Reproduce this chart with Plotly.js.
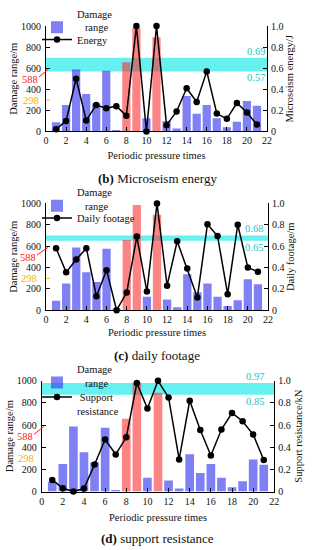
<!DOCTYPE html>
<html>
<head>
<meta charset="utf-8">
<script src="https://cdn.plot.ly/plotly-3.0.1.min.js"></script>
<style>
html,body{margin:0;padding:0;background:#fff;}
#chart{width:312px;height:550px;}
</style>
</head>
<body>
<div id="chart"></div>
<script>
// ---- data ----
const times = [1,2,3,4,5,6,7,8,9,10,11,12,13,14,15,16,17,18,19,20,21];
const damageRange = [88,250,588,355,265,575,15,657,985,125,893,100,28,336,168,250,125,40,93,290,243];
const highlighted = [8,9,11];   // periodic pressure times drawn in red
const energy = [0.02,0.10,0.50,0.105,0.25,0.22,0.24,0.15,1.0,0.0,1.0,0.06,0.19,0.41,0.28,0.57,0.17,0.12,0.27,0.18,0.065];
const dailyFootage = [0.58,0.355,0.475,0.58,0.13,0.375,0.0,0.165,0.69,0.175,1.0,0.23,0.645,0.39,0.12,0.805,0.695,0.15,0.80,0.40,0.36];
const supportResistance = [0.105,0.03,0.0,0.027,0.245,0.47,0.335,0.49,0.98,0.75,1.0,0.85,0.29,0.82,0.555,0.325,0.56,0.71,0.635,0.515,0.285];
const bandB = [0.57, 0.70], bandLabelsB = ['0.69','0.57'];
const bandC = [0.65, 0.70], bandLabelsC = ['0.68','0.65'];
const bandD = [0.875, 0.98], bandLabelsD = ['0.97','0.85'];
const markLevels = [588, 298];
const xTicks = [0,2,4,6,8,10,12,14,16,18,20,22];
const leftTicks = [0,200,400,600,800,1000];
const rightTickVals = [0,0.2,0.4,0.6,0.8,1.0];
const rightTickText = ['0','0.2','0.4','0.6','0.8','1.0'];

const FONT = 'Liberation Serif, Times New Roman, serif';
const BLUE = 'rgba(60,60,240,0.65)';
const RED = 'rgba(250,50,50,0.6)';
const CYAN = 'rgba(0,230,230,0.6)';
const CYANTXT = '#22c4c4';
const RED_TXT = '#ff1a1a';
const ORANGE = '#f5b400';
const NB = '\u00a0';

const blueX = [], blueY = [], redX = [], redY = [];
times.forEach((t,i)=>{
  if(highlighted.includes(t)){ redX.push(t); redY.push(damageRange[i]); }
  else { blueX.push(t); blueY.push(damageRange[i]); }
});

const panels = [
  {x:'x', y:'y', y2:'y2', xa:'xaxis', ya:'yaxis', ya2:'yaxis2', lgBar:'legend', lgLine:'legend2',
   series: energy, name:'Energy', rtitle:'Microseism energy/J', band: bandB, bandLabels: bandLabelsB,
   xdom:[0.1474,0.8558], ydom:[0.7722,0.9667], dash:true, xlab:20.9, caption:'<b>(b)</b> Microseism energy', capY:173,
   xstand:6, lstand:1, rstand:3, lab588:40, barLegY:13, lineLegY:32, lineValign:'middle'},
  {x:'x2', y:'y3', y2:'y4', xa:'xaxis2', ya:'yaxis3', ya2:'yaxis4', lgBar:'legend3', lgLine:'legend4',
   series: dailyFootage, name:'Daily footage', rtitle:'Daily footage/m', band: bandC, bandLabels: bandLabelsC,
   xdom:[0.1474,0.8590], ydom:[0.4424,0.6395], dash:true, xlab:20.6, caption:'<b>(c)</b> daily footage', capY:352.7,
   xstand:4, lstand:1, rstand:3, lab588:38, barLegY:194, lineLegY:213, lineValign:'middle'},
  {x:'x3', y:'y5', y2:'y6', xa:'xaxis3', ya:'yaxis5', ya2:'yaxis6', lgBar:'legend5', lgLine:'legend6',
   series: supportResistance, name:NB+'Support<br>resistance', rtitle:'Support resistance/kN', band: bandD, bandLabels: bandLabelsD,
   xdom:[0.1336,0.8792], ydom:[0.1078,0.3122], dash:false, xlab:20.2, caption:'<b>(d)</b> support resistance', capY:538,
   xstand:8, lstand:1, rstand:4, lab588:35, barLegY:373.5, lineLegY:402, lineValign:'top'}
];

const data = [];
const layout = {
  width:312, height:550, margin:{l:0,r:0,t:0,b:0},
  paper_bgcolor:'#fff', plot_bgcolor:'rgba(0,0,0,0)',
  font:{family:FONT, size:10, color:'#111'},
  showlegend:true, barmode:'overlay',
  shapes:[], annotations:[]
};

panels.forEach((p,k)=>{
  data.push({type:'bar', x:blueX, y:blueY, xaxis:p.x, yaxis:p.y, width:0.82,
    marker:{color:BLUE, line:{width:0}}, name:'Damage<br>'+NB+NB+NB+'range', legend:p.lgBar, showlegend:true});
  data.push({type:'bar', x:redX, y:redY, xaxis:p.x, yaxis:p.y, width:0.82,
    marker:{color:RED, line:{width:0}}, showlegend:false, legend:p.lgBar});
  data.push({type:'scatter', mode:'lines+markers', x:times, y:p.series, xaxis:p.x, yaxis:p.y2,
    line:{color:'#000', width:1.5}, marker:{color:'#000', size:6.5}, name:p.name, legend:p.lgLine, cliponaxis:false});

  const axCommon = {showline:true, linecolor:'#000', linewidth:1, ticks:'inside', ticklen:4, tickcolor:'#000',
    showgrid:false, zeroline:false, tickfont:{family:FONT, size:10, color:'#111'}};
  layout[p.xa] = Object.assign({}, axCommon, {domain:p.xdom, anchor:p.y, range:[0,22], tickvals:xTicks,
    title:{text:'Periodic pressure times', font:{family:FONT,size:10.5,color:'#111'}, standoff:p.xstand}});
  layout[p.ya] = Object.assign({}, axCommon, {domain:p.ydom, anchor:p.x, range:[0,1000], tickvals:leftTicks,
    ticklabelstandoff:2,
    title:{text:'Damage range/m', font:{family:FONT,size:10.5,color:'#111'}, standoff:p.lstand}});
  layout[p.ya2] = Object.assign({}, axCommon, {domain:p.ydom, anchor:p.x, overlaying:p.y, side:'right',
    range:[0,1], tickvals:rightTickVals, ticktext:rightTickText, ticklabelstandoff:1,
    title:{text:p.rtitle, font:{family:FONT,size:10.5,color:'#111'}, standoff:p.rstand}});

  // threshold band
  layout.shapes.push({type:'rect', xref:p.x, yref:p.y2, x0:0, x1:22, y0:p.band[0], y1:p.band[1],
    fillcolor:CYAN, line:{width:0}, layer:'below'});
  layout.annotations.push({xref:p.x, yref:p.y2, x:p.xlab, y:p.band[1], yanchor:'bottom', xanchor:'center',
    text:p.bandLabels[0], showarrow:false, font:{family:FONT,size:10.5,color:CYANTXT}, yshift:-1});
  layout.annotations.push({xref:p.x, yref:p.y2, x:p.xlab, y:p.band[0], yanchor:'top', xanchor:'center',
    text:p.bandLabels[1], showarrow:false, font:{family:FONT,size:10.5,color:CYANTXT}, yshift:1});

  // 588 / 298 marks on the left axis
  const axisPx = p.xdom[0]*312;
  layout.annotations.push({xref:'paper', yref:p.y, x:p.lab588/312, y:markLevels[0], xanchor:'right', yanchor:'middle',
    yshift:-10, text:String(markLevels[0]), showarrow:false, font:{family:FONT,size:10.5,color:RED_TXT}});
  layout.shapes.push({type:'line', xref:'paper', yref:p.y, x0:(axisPx+2)/312, x1:(p.lab588-1)/312,
    y0:markLevels[0], y1:markLevels[0]-72, line:{color:RED_TXT, width:1}});
  layout.annotations.push({xref:'paper', yref:p.y, x:p.lab588/312+0.003, y:markLevels[1], xanchor:'right', yanchor:'middle',
    text:String(markLevels[1]), showarrow:false, font:{family:FONT,size:10.5,color:ORANGE}});
  if(p.dash){
    layout.shapes.push({type:'line', xref:'paper', yref:p.y, x0:(axisPx+0.5)/312, x1:(axisPx+4)/312,
      y0:markLevels[1], y1:markLevels[1], line:{color:ORANGE, width:1}});
  }

  // caption
  layout.annotations.push({xref:'paper', yref:'paper', x:157/312, y:1-p.capY/550, xanchor:'center', yanchor:'middle',
    text:p.caption, showarrow:false, font:{family:FONT,size:13,color:'#111'}});

  const lgCommon = {x:0.1186, xanchor:'left', yanchor:'middle', bgcolor:'rgba(0,0,0,0)', borderwidth:0,
    font:{family:FONT,size:10.5,color:'#111'}, tracegroupgap:0, itemwidth:30};
  layout[p.lgBar] = Object.assign({}, lgCommon, {y:1-p.barLegY/550, valign:'bottom'});
  layout[p.lgLine] = Object.assign({}, lgCommon, {y:1-p.lineLegY/550, valign:p.lineValign});
});

Plotly.newPlot('chart', data, layout, {displayModeBar:false, staticPlot:true});
</script>
</body>
</html>
